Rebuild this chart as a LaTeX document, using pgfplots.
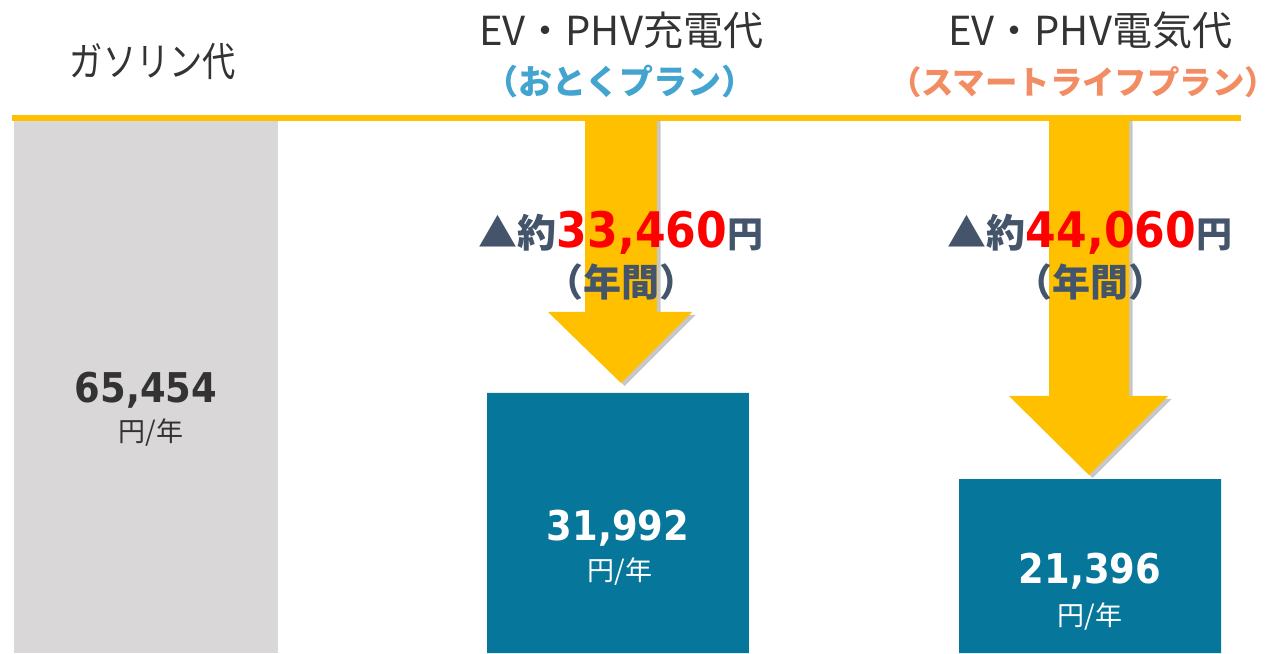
\documentclass[border=0pt]{standalone}
\usepackage{pgfplots}
\pgfplotsset{compat=1.18}
\usepackage{fontspec}
\usetikzlibrary{shadows}
\setmainfont{Noto Sans CJK JP}
\newfontfamily\jp{Noto Sans CJK JP}
\newfontfamily\jpc[FakeStretch=0.83]{Noto Sans CJK JP}
\newfontfamily\num[FakeStretch=0.9]{DejaVu Sans}
\definecolor{ygold}{HTML}{FFC000}
\definecolor{gbar}{HTML}{D9D7D8}
\definecolor{bbar}{HTML}{07769B}
\definecolor{hdr}{HTML}{333333}
\definecolor{subA}{HTML}{43A4D0}
\definecolor{subB}{HTML}{F28C62}
\definecolor{slate}{HTML}{44546A}
\definecolor{red}{HTML}{FF0000}
\begin{document}
\begin{tikzpicture}
\useasboundingbox (0,0) rectangle (639pt,326.5pt);
\begin{axis}[
  scale only axis, width=639pt, height=326.5pt,
  xmin=-0.30932, xmax=2.39831, ymin=0, ymax=80319,
  hide axis, clip=false,
]
\addplot[ybar, bar width=0.559, bar shift=0pt, fill=gbar, draw=none] coordinates {(0,65454)};
\addplot[ybar, bar width=0.555, bar shift=0pt, fill=bbar, draw=none] coordinates {(1,31992) (2,21396)};

\draw[ygold, line width=3pt] (axis cs:-0.2839,65805) -- (axis cs:2.3199,65805);

\fill[ygold, drop shadow={shadow xshift=1.8pt, shadow yshift=-1.5pt, fill=black, opacity=0.22}]
  (axis cs:0.9301,65805) -- (axis cs:1.0826,65805) -- (axis cs:1.0826,41943) -- (axis cs:1.1568,41943)
  -- (axis cs:1.0064,33210) -- (axis cs:0.8517,41943) -- (axis cs:0.9301,41943) -- cycle;
\fill[ygold, drop shadow={shadow xshift=1.8pt, shadow yshift=-1.5pt, fill=black, opacity=0.22}]
  (axis cs:1.9131,65805) -- (axis cs:2.0826,65805) -- (axis cs:2.0826,31611) -- (axis cs:2.1653,31611)
  -- (axis cs:1.9979,21894) -- (axis cs:1.8284,31611) -- (axis cs:1.9131,31611) -- cycle;

% headers
\node[text=hdr, font=\jpc\fontsize{20}{22}\selectfont, inner sep=0pt] at (axis cs:0.0148,72693) {ガソリン代};
\node[text=hdr, font=\jp\fontsize{20}{22}\selectfont, inner sep=0pt] at (axis cs:1.0064,76629) {EV・PHV充電代};
\node[text=subA, font=\jp\bfseries\fontsize{17}{19}\selectfont, inner sep=0pt] at (axis cs:1.0042,70233) {\kern-0.45em（おとくプラン）\kern-0.45em};
\node[text=hdr, font=\jp\fontsize{20}{22}\selectfont, inner sep=0pt] at (axis cs:2.0,76629) {EV・PHV電気代};
\node[text=subB, font=\jp\bfseries\fontsize{16.2}{19}\selectfont, inner sep=0pt] at (axis cs:1.9852,70233) {\kern-0.45em（スマートライフプラン）\kern-0.45em};

% bar labels
\node[text=hdr, font=\num\bfseries\fontsize{20.5}{22}\selectfont, inner sep=0pt] at (axis cs:0,32349) {65,454};
\node[text=hdr, font=\jp\fontsize{13.5}{15}\selectfont, inner sep=0pt] at (axis cs:0.01,27060) {円/年};
\node[text=white, font=\num\bfseries\fontsize{20.5}{22}\selectfont, inner sep=0pt] at (axis cs:1,15375) {31,992};
\node[text=white, font=\jp\fontsize{13.5}{15}\selectfont, inner sep=0pt] at (axis cs:1.004,9963) {円/年};
\node[text=white, font=\num\bfseries\fontsize{20.5}{22}\selectfont, inner sep=0pt] at (axis cs:2,10086) {21,396};
\node[text=white, font=\jp\fontsize{13.5}{15}\selectfont, inner sep=0pt] at (axis cs:2,4428) {円/年};

% savings
\node[anchor=base, inner sep=0pt] at (axis cs:1.0064,49815) {{\jp\bfseries\fontsize{19.5}{21}\selectfont\color{slate}▲約}{\num\bfseries\fontsize{24.5}{26}\selectfont\color{red}33,460}{\jp\bfseries\fontsize{18}{20}\selectfont\color{slate}円}};
\node[text=slate, font=\jp\bfseries\fontsize{19}{21}\selectfont, inner sep=0pt] at (axis cs:1.0064,45633) {（年間）};
\node[anchor=base, inner sep=0pt] at (axis cs:2.0,49815) {{\jp\bfseries\fontsize{19.5}{21}\selectfont\color{slate}▲約}{\num\bfseries\fontsize{24.5}{26}\selectfont\color{red}44,060}{\jp\bfseries\fontsize{18}{20}\selectfont\color{slate}円}};
\node[text=slate, font=\jp\bfseries\fontsize{19}{21}\selectfont, inner sep=0pt] at (axis cs:2.0,45633) {（年間）};
\end{axis}
\end{tikzpicture}
\end{document}
